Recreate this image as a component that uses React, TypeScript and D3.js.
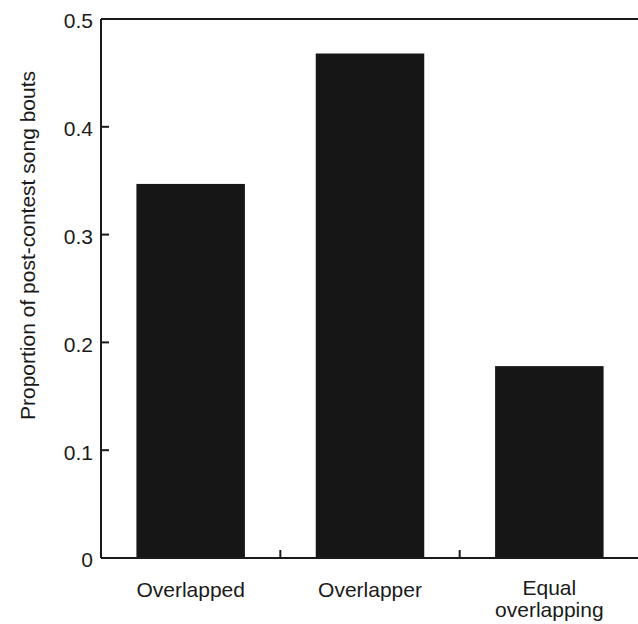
import React from "react";
import * as d3 from "d3";

const categories = ["Overlapped", "Overlapper", "Equal overlapping"];
const categoryLines = [["Overlapped"], ["Overlapper"], ["Equal", "overlapping"]];
const proportions = [0.347, 0.468, 0.178];
const yTicks = [0, 0.1, 0.2, 0.3, 0.4, 0.5];
const yTickLabels = ["0", "0.1", "0.2", "0.3", "0.4", "0.5"];

const W = 638;
const H = 624;
const margin = { top: 19, right: 0, bottom: 66, left: 101 };
const font = "'Liberation Sans', Arial, Helvetica, sans-serif";
const ink = "#1a1a1a";

export default function App() {
  const x = d3
    .scaleBand<string>()
    .domain(categories)
    .range([margin.left, W + 1])
    .padding(0);
  const y = d3
    .scaleLinear()
    .domain([0, 0.5])
    .range([H - margin.bottom, margin.top]);

  const barW = x.bandwidth() * 0.605;
  const bottom = y(0);
  // ticks between categories on the bottom axis
  const dividers = categories.slice(1).map(c => x(c)!);

  return (
    <svg
      width={W}
      height={H}
      style={{ position: "absolute", left: 0, top: 0, background: "#fff" }}
    >
      {categories.map((c, i) => {
        const cx = x(c)! + x.bandwidth() / 2;
        return (
          <rect
            key={c}
            x={cx - barW / 2}
            y={y(proportions[i])}
            width={barW}
            height={bottom - y(proportions[i])}
            fill="#161616"
          />
        );
      })}

      {/* frame: left, top, bottom */}
      <line x1={margin.left} x2={margin.left} y1={y(0.5)} y2={bottom} stroke={ink} strokeWidth={2} />
      <line x1={margin.left} x2={W} y1={y(0.5)} y2={y(0.5)} stroke={ink} strokeWidth={2} />
      <line x1={margin.left} x2={W} y1={bottom} y2={bottom} stroke={ink} strokeWidth={2} />

      {yTicks.map((t, i) => (
        <g key={t}>
          {t > 0 && t < 0.5 && (
            <line x1={margin.left} x2={margin.left + 8} y1={y(t)} y2={y(t)} stroke={ink} strokeWidth={2} />
          )}
          <text
            x={margin.left - 8}
            y={y(t)}
            dy="0.45em"
            textAnchor="end"
            fontFamily={font}
            fontSize={21}
            fill={ink}
          >
            {yTickLabels[i]}
          </text>
        </g>
      ))}

      {dividers.map(d => (
        <line key={d} x1={d} x2={d} y1={bottom} y2={bottom - 8} stroke={ink} strokeWidth={2} />
      ))}

      {categories.map((c, i) => {
        const cx = x(c)! + x.bandwidth() / 2;
        const lines = categoryLines[i];
        return (
          <text key={c} textAnchor="middle" fontFamily={font} fontSize={21} fill={ink}>
            {lines.map((l, j) => (
              <tspan key={j} x={cx} y={(lines.length > 1 ? 595 : 597) + j * 22}>
                {l}
              </tspan>
            ))}
          </text>
        );
      })}

      <text
        transform={`translate(35, ${(margin.top + bottom) / 2 - 43}) rotate(-90)`}
        textAnchor="middle"
        fontFamily={font}
        fontSize={21}
        fill={ink}
      >
        Proportion of post-contest song bouts
      </text>
    </svg>
  );
}
